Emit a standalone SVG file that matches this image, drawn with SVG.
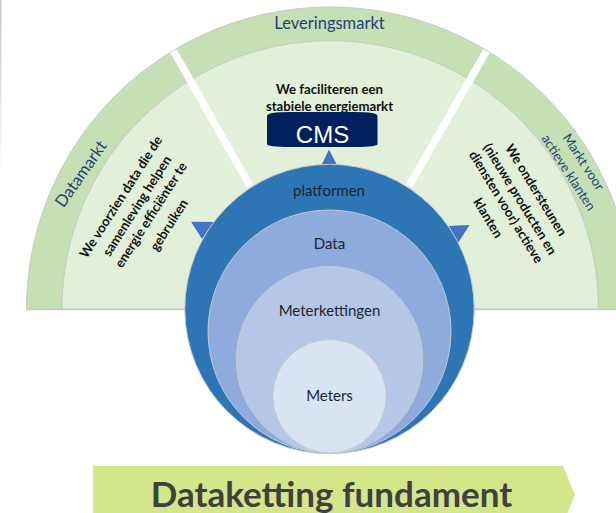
<svg xmlns="http://www.w3.org/2000/svg" width="616" height="513" viewBox="0 0 616 513">
<defs><linearGradient id="fade" x1="0" y1="0" x2="0" y2="1"><stop offset="0" stop-color="#c4c4c4"/><stop offset="1" stop-color="#fff"/></linearGradient></defs>
<style>
text{font-family:"Lato","Liberation Sans",sans-serif;text-anchor:middle}
.b{font-weight:700;font-size:13.200px;fill:#111}
.m{font-size:16.500px;fill:#1F3F7A}
.t{font-size:13.200px;fill:#1F4478}
.c{font-size:15px;fill:#1c2430}
.ring{stroke:#c4c9cf;stroke-width:1}
.tri{fill:#4472C4}
</style>
<rect width="616" height="513" fill="#fff"/>
<rect x="0" y="0" width="1.500" height="175" fill="url(#fade)"/>
<g id="markets">
<path d="M26.500 309.500A303.500 302.500 0 0 1 633.500 309.500Z" fill="#C5E0B4" stroke="#c8c8c8" stroke-width="1"/>
<path d="M62 309A268 268 0 0 1 598.500 309Z" fill="#E2F0D9" stroke="#c8c8c8" stroke-width="1"/>
<path d="M26.500 309.500H633.500" stroke="#c8c8c8" stroke-width="1.600" fill="none"/>
<path d="M173.500 51L250 186M486.500 51L409 186" stroke="#fff" stroke-width="7.500" fill="none"/>
</g>
<g id="labels">
<text class="m" x="329.500" y="29">Leveringsmarkt</text>
<text class="m" transform="translate(81 174) rotate(-55)" y="5.500">Datamarkt</text>
<text class="t" transform="translate(583.500 162) rotate(57)" y="4.500">Markt voor</text>
<text class="t" transform="translate(568.500 172.500) rotate(57)" y="4.500">actieve klanten</text>
<text class="b" x="329.500" y="94">We faciliteren een</text>
<text class="b" x="329.500" y="111">stabiele energiemarkt</text>
<g transform="rotate(-57.500 121 197)"><text class="b" x="121" y="201.500">We voorzien data die de</text></g>
<g transform="rotate(-57.500 137 206)"><text class="b" x="137" y="210.500">samenleving helpen</text></g>
<g transform="rotate(-57.500 151 215)"><text class="b" x="151" y="219.500">energie efficiënter te</text></g>
<g transform="rotate(-57.500 169 225)"><text class="b" x="169" y="229.500">gebruiken</text></g>
<g transform="rotate(58.500 536 190)"><text class="b" x="536" y="194.500">We ondersteunen</text></g>
<g transform="rotate(58.500 520 199)"><text class="b" x="520" y="203.500">(nieuwe producten en</text></g>
<g transform="rotate(58.500 506 207)"><text class="b" x="506" y="211.500">diensten voor) actieve</text></g>
<g transform="rotate(58.500 488 218)"><text class="b" x="488" y="222.500">klanten</text></g>
</g>
<g id="connectors">
<polygon class="tri" points="329,149.500 321.500,165 337,165"/>
<polygon class="tri" points="191,221.700 214,222 202,239"/>
<polygon class="tri" points="469.500,225 449,226 458,243"/>
</g>
<g id="cms">
<path d="M267 116Q267 112 290 112H355Q377.500 112 377.500 116V144Q377.500 147 355 147H290Q267 147 267 144Z" fill="#002060"/>
<text x="322.500" y="142.500" style="font-size:24px;fill:#fff;font-family:'Liberation Sans',sans-serif">CMS</text>
</g>
<g id="platformen"><circle class="ring" cx="329.500" cy="309" r="144.700" fill="#2E75B6"/><text class="c" x="329" y="196">platformen</text></g>
<g id="data"><circle class="ring" cx="329.500" cy="331.500" r="121.500" fill="#8FAADC"/><text class="c" x="329.500" y="249">Data</text></g>
<g id="meterkettingen"><circle class="ring" cx="329.500" cy="359.700" r="93.300" fill="#B4C7E7"/><text class="c" x="329.500" y="316">Meterkettingen</text></g>
<g id="meters"><circle class="ring" cx="329.500" cy="396.300" r="56.700" fill="#DAE3F3"/><text class="c" x="329.500" y="401">Meters</text></g>
<g id="fundament">
<polygon points="93,466 563,466 575,495 563,524 93,524" fill="#D4E68A"/>
<text x="331.500" y="506.500" style="font-size:35px;font-weight:700;fill:#404040">Dataketting fundament</text>
</g>
</svg>
